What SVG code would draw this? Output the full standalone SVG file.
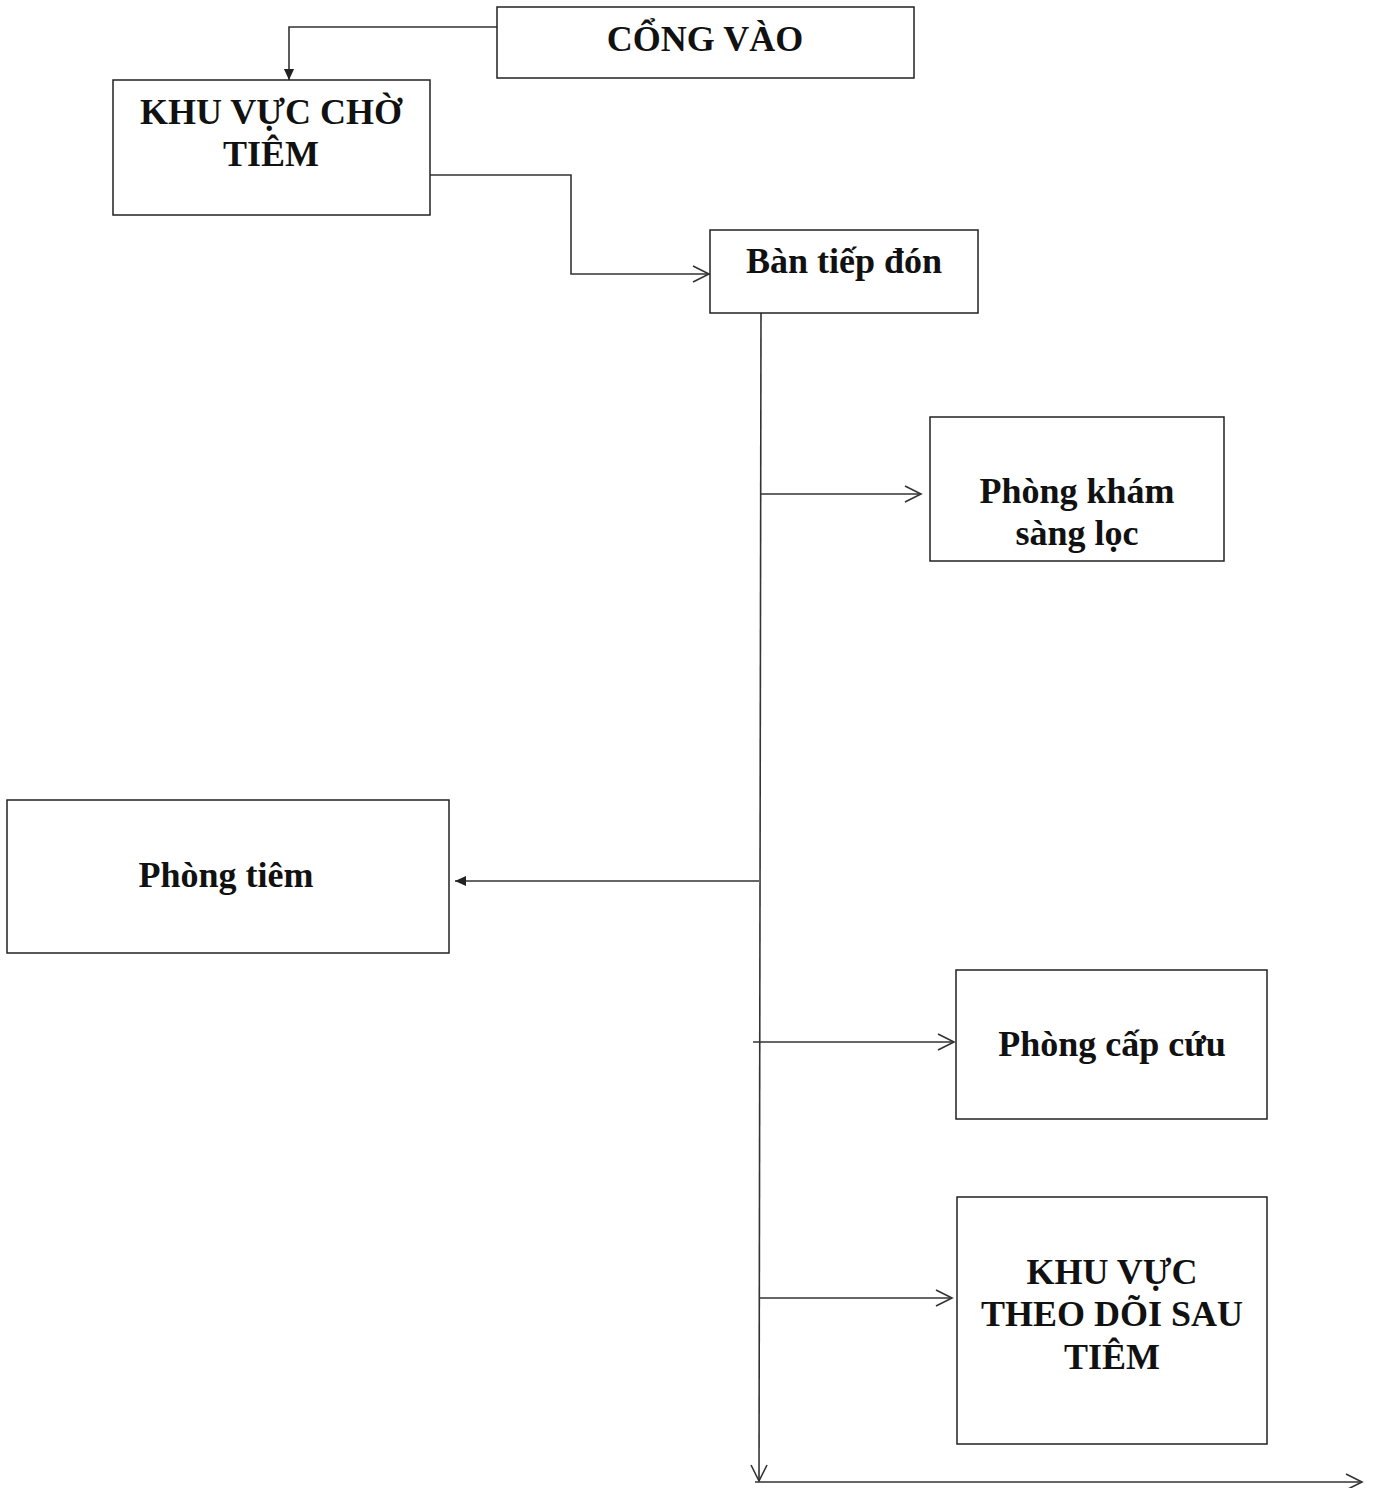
<svg xmlns="http://www.w3.org/2000/svg" width="1373" height="1488" viewBox="0 0 1373 1488">
<style>
.box{fill:#fff;stroke:#222;stroke-width:1.5}
.t{font-family:"Liberation Serif","Times New Roman",serif;font-weight:bold;font-size:36px;fill:#111;text-anchor:middle}
.c{fill:none;stroke:#333;stroke-width:1.6}
</style>
<defs>
<marker id="open" viewBox="0 0 20 20" refX="18" refY="10" markerWidth="20" markerHeight="20" markerUnits="userSpaceOnUse" orient="auto">
<path d="M2,2 L18,10 L2,18" fill="none" stroke="#333" stroke-width="1.6"/>
</marker>
<marker id="fill" viewBox="0 0 14 14" refX="13" refY="7" markerWidth="12" markerHeight="12" markerUnits="userSpaceOnUse" orient="auto">
<path d="M0,1 L13,7 L0,13 Z" fill="#222"/>
</marker>
</defs>
<rect width="1373" height="1488" fill="#fff"/>
<g id="connectors">
<path class="c" d="M497,27 H289 V80" marker-end="url(#fill)"/>
<path class="c" d="M430,175 H571 V274 H709" marker-end="url(#open)"/>
<path class="c" d="M761,313 L759,1481" marker-end="url(#open)"/>
<path class="c" d="M761,494 H921" marker-end="url(#open)"/>
<path class="c" d="M759,881 H455" marker-end="url(#fill)"/>
<path class="c" d="M753,1042 H954" marker-end="url(#open)"/>
<path class="c" d="M759,1298 H952" marker-end="url(#open)"/>
<path class="c" d="M755,1482 H1362" marker-end="url(#open)"/>
</g>
<g id="cong-vao">
<rect class="box" x="497" y="7" width="417" height="71"/>
<text class="t" x="705" y="51">CỔNG VÀO</text>
</g>
<g id="khu-vuc-cho-tiem">
<rect class="box" x="113" y="80" width="317" height="135"/>
<text class="t" x="271" y="124">KHU VỰC CHỜ</text>
<text class="t" x="271" y="166">TIÊM</text>
</g>
<g id="ban-tiep-don">
<rect class="box" x="710" y="230" width="268" height="83"/>
<text class="t" x="844" y="273">Bàn tiếp đón</text>
</g>
<g id="phong-kham-sang-loc">
<rect class="box" x="930" y="417" width="294" height="144"/>
<text class="t" x="1077" y="503">Phòng khám</text>
<text class="t" x="1077" y="545">sàng lọc</text>
</g>
<g id="phong-tiem">
<rect class="box" x="7" y="800" width="442" height="153"/>
<text class="t" x="226" y="887">Phòng tiêm</text>
</g>
<g id="phong-cap-cuu">
<rect class="box" x="956" y="970" width="311" height="149"/>
<text class="t" x="1112" y="1056">Phòng cấp cứu</text>
</g>
<g id="khu-vuc-theo-doi">
<rect class="box" x="957" y="1197" width="310" height="247"/>
<text class="t" x="1112" y="1284">KHU VỰC</text>
<text class="t" x="1112" y="1326">THEO DÕI SAU</text>
<text class="t" x="1112" y="1369">TIÊM</text>
</g>
</svg>
